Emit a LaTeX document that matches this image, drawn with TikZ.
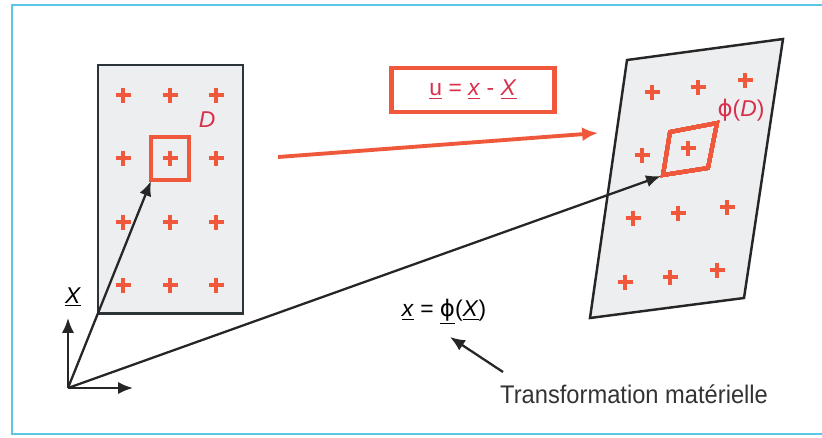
\documentclass[tikz,border=0pt]{standalone}
\usepackage{fontspec}
\setmainfont{Liberation Sans}
\newfontfamily\narrowsf[FakeStretch=0.93]{Liberation Sans}
\newfontfamily\symfont{DejaVu Sans}
\usetikzlibrary{arrows.meta,positioning,calc}

\definecolor{crossred}{HTML}{F0583C}
\definecolor{labred}{HTML}{D8304A}
\definecolor{frameblue}{HTML}{5CC6E6}
\definecolor{solidfill}{HTML}{ECEEF0}
\definecolor{edgegray}{HTML}{2B3438}

\tikzset{
  crs/.style={crossred, line width=2.4pt},
  vec/.style={-{Latex[length=8.5pt,width=7pt]}, line width=1.3pt, black!85},
  lab/.style={text=labred, font=\fontsize{13}{15}\selectfont, inner sep=1pt},
}
\newcommand{\crossat}[2]{\draw[crs] (#1,#2) +(-7.5,0) -- +(7.5,0) (#1,#2) +(0,-7.5) -- +(0,7.5);}
\newcommand{\phisym}{{\symfont ϕ}}

\begin{document}
\begin{tikzpicture}[x=0.02cm, y=-0.02cm]
    \useasboundingbox (0,0) rectangle (822,437);

    % Frame
    \draw[frameblue, line width=1.2pt] (840,5) -- (12,5) -- (12,434) -- (840,434);

    % Initial solid
    \draw[edgegray, line width=1.7pt, fill=solidfill] (98,65) rectangle (243,313);
    \foreach \x in {123,170,216}
      \foreach \y in {95,158,222,285}
        \crossat{\x}{\y}
    \draw[crossred, line width=2.2pt] (151,137) rectangle (189,180);
    \coordinate (Dc) at (151,181);
    \node[lab] (D) at (207,120) {\textit{D}};

    % Deformed solid
    \draw[black!85, line width=1.4pt, fill=solidfill] (627,60) -- (783,39) -- (744,298) -- (590,318) -- cycle;
    \foreach \x/\y in {652/92, 698/87, 745/80, 642/155, 688/148, 633/218, 678/213, 727/207, 625/282, 670/277, 717/270}
      \crossat{\x}{\y}
    \draw[crossred, line width=2.2pt] (670,132) -- (717,123) -- (708,168) -- (663,175) -- cycle;
    \coordinate (phiDc) at (661,176);
    \node[lab] (phiD) at (741,110) {\phisym(\textit{D})};

    % Frame of reference
    \coordinate (O) at (68,388);
    \coordinate (e2) at (68,318);
    \coordinate (e1) at (133,388);
    \draw[vec] (O) -- (e2);
    \draw[vec] (O) -- (e1);
    \node[font=\fontsize{13}{15}\selectfont, inner sep=1pt] (Xlab) at (73,297) {\underline{\textit{X}}};

    % Position vectors
    \draw[vec] (O) -- (Dc);
    \draw[vec] (O) -- (phiDc);

    % Displacement
    \coordinate (ua) at (278,157);
    \coordinate (ub) at (598,133);
    \draw[-{Latex[length=9pt,width=8pt]}, crossred, line width=2.2pt] (ua) -- (ub);
    \node[draw=crossred, line width=2.3pt, minimum width=3.26cm, minimum height=0.88cm,
          text=labred, font=\fontsize{13}{15}\selectfont] (ubox) at (473,90)
          {\underline{u} = \underline{\textit{x}} - \underline{\textit{X}}};

    % Mapping
    \node[font=\fontsize{13}{15}\selectfont, inner sep=1pt] (map) at (444,312)
          {\underline{\textit{x}} = \underline{\phisym}(\underline{\textit{X}})};
    \node[text=black!80, font=\narrowsf\fontsize{14.5}{16}\selectfont, anchor=west] (trans) at (494,394)
          {Transformation matérielle};
    \coordinate (tt) at (503,372);
    \coordinate (th) at (450,337);
    \draw[vec] (tt) -- (th);
\end{tikzpicture}
\end{document}
